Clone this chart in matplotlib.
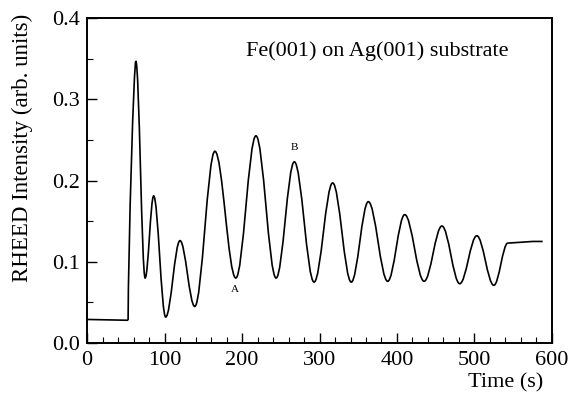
import matplotlib
matplotlib.use("Agg")
import matplotlib.pyplot as plt
from matplotlib.ticker import MultipleLocator
from matplotlib.path import Path
from matplotlib.patches import PathPatch

plt.rcParams['font.family'] = ['Liberation Serif', 'DejaVu Serif']

# Baseline before growth starts (Ag substrate)
base_time = [0, 53]
base_intensity = [0.029, 0.028]

# Turning points (peaks and minima) of the RHEED oscillations
ext_time = [53, 63, 75, 86, 101.5, 120, 139, 165, 192, 218, 244, 267.5, 293,
            317, 341, 363, 388, 410, 435, 458, 481, 503, 525, 543]
ext_intensity = [0.028, 0.347, 0.080, 0.181, 0.032, 0.126, 0.045, 0.236, 0.080,
                 0.255, 0.080, 0.223, 0.075, 0.197, 0.075, 0.174, 0.076, 0.158,
                 0.076, 0.144, 0.073, 0.132, 0.071, 0.123]

# Plateau after growth stops
end_time = [543, 560, 575, 588]
end_intensity = [0.123, 0.124, 0.125, 0.125]

x_ticks = [0, 100, 200, 300, 400, 500, 600]
y_ticks = [0.0, 0.1, 0.2, 0.3, 0.4]
y_tick_labels = ['0.0', '0.1', '0.2', '0.3', '0.4']

fig = plt.figure(figsize=(5.71, 3.96), dpi=100)
ax = fig.add_axes([0.1524, 0.1338, 0.8143, 0.8207])

ax.plot(base_time, base_intensity, color='black', lw=1.2, solid_capstyle='butt')
ax.plot(end_time, end_intensity, color='black', lw=1.2, solid_capstyle='butt')

# smooth oscillation: cubic Bezier segments with flat tangents at turning points
verts = [(ext_time[0], ext_intensity[0])]
codes = [Path.MOVETO]
h = 0.36
for i in range(len(ext_time) - 1):
    t0, v0 = ext_time[i], ext_intensity[i]
    t1, v1 = ext_time[i + 1], ext_intensity[i + 1]
    dt = t1 - t0
    if i == 0:
        c1 = (t0 + 0.05 * dt, v0 + 0.3 * (v1 - v0))
        c2 = (t1 - 0.25 * dt, v1)
    else:
        c1 = (t0 + h * dt, v0)
        c2 = (t1 - h * dt, v1)
    verts += [c1, c2, (t1, v1)]
    codes += [Path.CURVE4, Path.CURVE4, Path.CURVE4]
ax.add_patch(PathPatch(Path(verts, codes), fill=False, edgecolor='black', lw=1.2))

ax.set_xlim(0, 600)
ax.set_ylim(0, 0.4)
ax.set_xticks(x_ticks)
ax.set_yticks(y_ticks)
ax.set_yticklabels(y_tick_labels)
ax.xaxis.set_minor_locator(MultipleLocator(20))
ax.yaxis.set_minor_locator(MultipleLocator(0.05))
ax.tick_params(which='major', direction='in', length=7, width=1.0, labelsize=16)
ax.tick_params(which='minor', direction='in', length=4, width=0.8)
ax.tick_params(axis='x', pad=6)
ax.tick_params(axis='y', pad=5)
for s in ax.spines.values():
    s.set_linewidth(1.4)

fig.text(22/571, 1 - 148/396, 'RHEED Intensity (arb. units)', fontsize=16.5,
         rotation=90, ha='center', va='center')
fig.text(506/571, 1 - 383/396, 'Time (s)', fontsize=16, ha='center', va='center')
ax.text(377/571, 1 - 51/396, 'Fe(001) on Ag(001) substrate', transform=fig.transFigure,
        fontsize=16, ha='center', va='center')
ax.text(191, 0.066, 'A', fontsize=8, ha='center', va='center')
ax.text(267, 0.241, 'B', fontsize=8, ha='center', va='center')

fig.savefig('out.png', dpi=100)
